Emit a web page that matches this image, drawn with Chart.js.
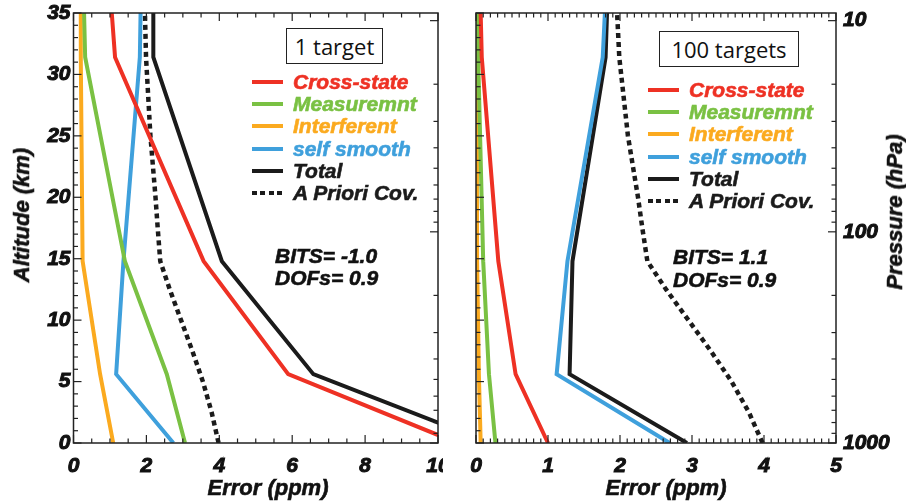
<!DOCTYPE html>
<html>
<head>
<meta charset="utf-8">
<title>Error profiles</title>
<script src="https://cdn.jsdelivr.net/npm/chart.js@4.4.1/dist/chart.umd.min.js"></script>
<style>
  body { margin: 0; background: #fff; }
  #wrap {
    position: relative; width: 906px; height: 501px; overflow: hidden;
    font-family: "Liberation Sans", Arial, sans-serif; font-weight: bold; font-style: italic; color: #111;
  }
  canvas { position: absolute; top: 0; }
  .heavy { -webkit-text-stroke: 0.6px currentColor; }
  .txt { position: absolute; white-space: nowrap; font-size: 21px; line-height: 22px; }
  .title { position: absolute; white-space: nowrap; font-size: 22px; line-height: 24px; transform: translate(-50%, -50%); }
  .title.rot { transform: translate(-50%, -50%) rotate(-90deg); }
  .box {
    position: absolute; border: 1.5px solid #222; box-sizing: border-box; background: #fff;
    font-family: "Open Sans", sans-serif; font-style: normal; font-weight: normal; font-size: 22px;
    display: flex; align-items: center; justify-content: center;
  }
  .legend { position: absolute; }
  .legend-row { display: flex; align-items: center; height: 22.2px; font-size: 21px; white-space: nowrap; }
  .swatch { display: inline-block; width: 31px; height: 4px; margin-right: 10px; }
  .swatch.dashed { background: repeating-linear-gradient(90deg, #1b1b1b 0 5px, transparent 5px 8.5px) !important; }
</style>
</head>
<body>
<div id="wrap">
  <canvas id="panelOne" width="443" height="501" style="left:0"></canvas>
  <canvas id="panelHundred" width="456" height="501" style="left:450px"></canvas>

  <div class="box" style="left:286px; top:28px; width:97px; height:36px">1 target</div>
  <div class="box" style="left:659px; top:31px; width:140px; height:36px">100 targets</div>
  <div class="legend heavy" id="legendOne" style="left:252px; top:71px"></div>
  <div class="legend heavy" id="legendHundred" style="left:648px; top:79px"></div>

  <div class="txt heavy" style="left:275px; top:245px">BITS= -1.0</div>
  <div class="txt heavy" style="left:275px; top:267px">DOFs= 0.9</div>
  <div class="txt heavy" style="left:673px; top:246px">BITS= 1.1</div>
  <div class="txt heavy" style="left:673px; top:269px">DOFs= 0.9</div>

  <div class="title rot heavy" style="left:22px; top:215px">Altitude (km)</div>
  <div class="title heavy" style="left:268px; top:488px">Error (ppm)</div>
  <div class="title heavy" style="left:666px; top:488px">Error (ppm)</div>
  <div class="title rot heavy" style="left:895px; top:212px">Pressure (hPa)</div>
</div>

<script>
// profile levels (km)
const altitudes = [0, 5.6, 14.8, 31.4, 35];
const aprioriAltitudes = [0, 2.5, 5, 7.5, 10, 12.5, 14.8, 17.5, 20, 25, 31.4, 35];
const aprioriCov = [3.98, 3.79, 3.55, 3.26, 2.95, 2.64, 2.38, 2.31, 2.25, 2.11, 1.99, 1.96];

// 1 target
const crossState1 = [10.54, 5.89, 3.57, 1.14, 1.05];
const measurement1 = [3.06, 2.56, 1.41, 0.32, 0.29];
const interferent1 = [1.09, 0.73, 0.25, 0.2, 0.2];
const selfSmooth1 = [2.74, 1.17, 1.37, 1.82, 1.84];
const total1 = [11.43, 6.58, 4.07, 2.19, 2.19];

// 100 targets
const crossState100 = [1.0, 0.55, 0.31, 0.08, 0.065];
const measurement100 = [0.27, 0.18, 0.1, 0.03, 0.02];
const interferent100 = [0.065, 0.04, 0.015, 0.01, 0.01];
const selfSmooth100 = [2.69, 1.12, 1.27, 1.76, 1.79];
const total100 = [2.93, 1.30, 1.34, 1.80, 1.82];

const seriesNames = ["Cross-state", "Measuremnt", "Interferent", "self smooth", "Total", "A Priori Cov."];
const seriesColors = ["#ee3124", "#7ac143", "#fbaa1f", "#3fa0dc", "#1b1b1b", "#1b1b1b"];
const pressureLabels = [10, 100, 1000];

const tickFont = { family: "'Liberation Sans', Arial, sans-serif", size: 21, style: "italic", weight: "bold" };
const tickStyle = { font: tickFont, color: "#111", textStrokeColor: "#111", textStrokeWidth: 1 };

function profile(i, values, alts) {
  return {
    label: seriesNames[i],
    data: values.map((v, k) => ({ x: v, y: alts[k] })),
    borderColor: seriesColors[i],
    backgroundColor: seriesColors[i],
    borderWidth: i === 5 ? 4.5 : 4,
    borderDash: i === 5 ? [5, 4] : [],
    showLine: true,
    tension: 0,
    pointRadius: 0,
    fill: false,
  };
}

// tick lists: [value, isMajor]
function linearTicks(max, step, majorEvery) {
  const out = [];
  const n = Math.round(max / step);
  for (let i = 0; i <= n; i++) out.push([i * step, i % majorEvery === 0]);
  return out;
}
function pressureTicks() {
  const out = [];
  [10, 100].forEach((dec) => {
    for (let m = 1; m < 10; m++) out.push([m * dec, m === 1]);
  });
  out.push([1000, true]);
  return out;
}

// box frame with inward ticks on all four sides
function frameTicks(sides) {
  return {
    id: "frameTicks",
    afterDatasetsDraw(chart) {
      const { ctx, chartArea: a } = chart;
      ctx.save();
      ctx.strokeStyle = "#222";
      ctx.lineWidth = 1.5;
      ctx.strokeRect(a.left, a.top, a.right - a.left, a.bottom - a.top);
      ctx.lineWidth = 1.2;
      sides.forEach((side) => {
        const scale = chart.scales[side.scale];
        side.ticks.forEach(([v, major]) => {
          const len = major ? 8 : 4.5;
          const p = scale.getPixelForValue(v);
          ctx.beginPath();
          if (side.edge === "bottom") { ctx.moveTo(p, a.bottom); ctx.lineTo(p, a.bottom - len); }
          if (side.edge === "top") { ctx.moveTo(p, a.top); ctx.lineTo(p, a.top + len); }
          if (side.edge === "left") { ctx.moveTo(a.left, p); ctx.lineTo(a.left + len, p); }
          if (side.edge === "right") { ctx.moveTo(a.right, p); ctx.lineTo(a.right - len, p); }
          ctx.stroke();
        });
      });
      ctx.restore();
    },
  };
}

function noPad(s) {
  s.paddingLeft = 0; s.paddingRight = 0; s.paddingTop = 0; s.paddingBottom = 0;
}

function makePanel(id, datasets, xMax, xStep, opts) {
  const xTicks = linearTicks(xMax, opts.minorStep, Math.round(xStep / opts.minorStep));
  const sides = [
    { edge: "bottom", scale: "x", ticks: xTicks },
    { edge: "top", scale: "x", ticks: xTicks },
    { edge: "left", scale: "y", ticks: linearTicks(35, 1, 5) },
    { edge: "right", scale: "p", ticks: pressureTicks() },
  ];
  return new Chart(document.getElementById(id), {
    type: "scatter",
    data: { datasets },
    options: {
      responsive: false,
      animation: false,
      devicePixelRatio: 1,
      layout: { padding: opts.padding },
      plugins: { legend: { display: false }, tooltip: { enabled: false } },
      scales: {
        x: {
          type: "linear", position: "bottom", min: 0, max: xMax,
          grid: { display: false, drawTicks: false }, border: { display: false },
          ticks: { ...tickStyle, stepSize: xStep, padding: 11, maxRotation: 0 },
          afterFit(s) { s.height = 58; noPad(s); },
        },
        y: {
          type: "linear", position: "left", min: 0, max: 35, display: opts.showAltitude,
          grid: { display: false, drawTicks: false }, border: { display: false },
          ticks: { ...tickStyle, stepSize: 5, padding: 3 },
          afterFit(s) { s.width = opts.showAltitude ? 73.5 : 0; noPad(s); },
        },
        p: {
          type: "logarithmic", position: "right", reverse: true, min: 9.2, max: 1000,
          display: opts.showPressure,
          grid: { display: false, drawTicks: false }, border: { display: false },
          ticks: {
            ...tickStyle, autoSkip: false, padding: 7,
            callback: (v) => (pressureLabels.includes(v) ? String(v) : ""),
          },
          afterFit(s) { s.width = opts.showPressure ? 70 : 0; noPad(s); },
        },
      },
    },
    plugins: [frameTicks(sides)],
  });
}

makePanel("panelOne", [
  profile(0, crossState1, altitudes),
  profile(1, measurement1, altitudes),
  profile(2, interferent1, altitudes),
  profile(3, selfSmooth1, altitudes),
  profile(4, total1, altitudes),
  profile(5, aprioriCov, aprioriAltitudes),
], 10, 2, { minorStep: 0.5, padding: { top: 13, right: 5, left: 0, bottom: 0 }, showAltitude: true, showPressure: false });

makePanel("panelHundred", [
  profile(0, crossState100, altitudes),
  profile(1, measurement100, altitudes),
  profile(2, interferent100, altitudes),
  profile(3, selfSmooth100, altitudes),
  profile(4, total100, altitudes),
  profile(5, aprioriCov, aprioriAltitudes),
], 5, 1, { minorStep: 0.1, padding: { top: 13, right: 0, left: 26, bottom: 0 }, showAltitude: false, showPressure: true });

function buildLegend(id) {
  const container = document.getElementById(id);
  seriesNames.forEach((name, i) => {
    const row = document.createElement("div");
    row.className = "legend-row";
    const swatch = document.createElement("span");
    swatch.className = i === 5 ? "swatch dashed" : "swatch";
    swatch.style.background = seriesColors[i];
    const label = document.createElement("span");
    label.textContent = name;
    label.style.color = seriesColors[i];
    row.append(swatch, label);
    container.append(row);
  });
}
buildLegend("legendOne");
buildLegend("legendHundred");
</script>
</body>
</html>
